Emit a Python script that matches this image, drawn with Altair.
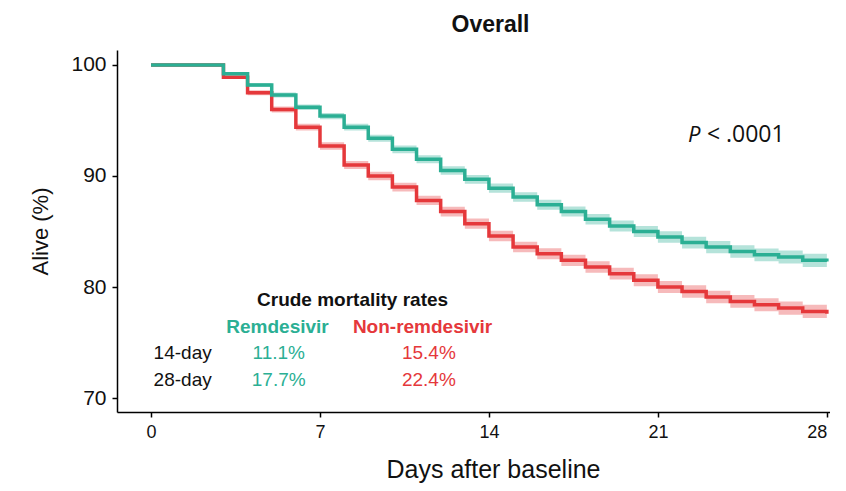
import altair as alt
import pandas as pd

# ---- data ----
days = list(range(29))
remdesivir = [100, 100, 100, 99.2, 98.2, 97.3, 96.2, 95.4, 94.4, 93.4, 92.4, 91.5, 90.5, 89.7,
              88.9, 88.1, 87.4, 86.8, 86.1, 85.5, 85.0, 84.5, 84.0, 83.6, 83.2, 82.9, 82.7, 82.4, 82.3]
non_remdesivir = [100, 100, 100, 98.9, 97.5, 96.0, 94.4, 92.7, 91.0, 90.0, 89.0, 87.8, 86.8, 85.7,
                  84.6, 83.6, 83.0, 82.4, 81.8, 81.2, 80.6, 80.0, 79.6, 79.1, 78.7, 78.4, 78.1, 77.8, 77.6]
remdesivir_ci = [0, 0, 0, 0.12, 0.18, 0.22, 0.25, 0.28, 0.3, 0.32, 0.34, 0.36, 0.38, 0.4,
                 0.42, 0.43, 0.45, 0.46, 0.48, 0.5, 0.5, 0.52, 0.53, 0.55, 0.56, 0.57, 0.58, 0.6, 0.6]
non_remdesivir_ci = [0, 0, 0, 0.15, 0.22, 0.27, 0.3, 0.33, 0.36, 0.38, 0.4, 0.42, 0.44, 0.46,
                     0.47, 0.48, 0.5, 0.5, 0.52, 0.53, 0.54, 0.55, 0.56, 0.57, 0.58, 0.58, 0.59, 0.6, 0.6]
groups = ["Remdesivir", "Non-remdesivir"]
colors = ["#2BAF94", "#E5383B"]
x_ticks = [0, 7, 14, 21, 28]
y_ticks = [70, 80, 90, 100]
table_title = "Crude mortality rates"
row_labels = ["14-day", "28-day"]
remdesivir_rates = ["11.1%", "17.7%"]
non_remdesivir_rates = ["15.4%", "22.4%"]
p_symbol = "P"
p_value = "< .0001"


def frame(g, vals, ci):
    return pd.DataFrame({"day": days, "surv": vals,
                         "lo": [v - c for v, c in zip(vals, ci)],
                         "hi": [v + c for v, c in zip(vals, ci)],
                         "group": g})


df_rem = frame(groups[0], remdesivir, remdesivir_ci)
df_non = frame(groups[1], non_remdesivir, non_remdesivir_ci)

xs = alt.Scale(domain=[-1.41, 28.13], nice=False, zero=False)
ys = alt.Scale(domain=[68.74, 101.35], nice=False, zero=False)
cs = alt.Scale(domain=groups, range=colors)

FONT = "Liberation Sans"

x_enc = alt.X("day:Q", scale=xs, title="Days after baseline",
              axis=alt.Axis(values=x_ticks, grid=False, domainColor="black", domainWidth=1.5,
                            tickColor="black", tickWidth=1.5, tickSize=5, labelFontSize=18,
                            labelFont=FONT, labelColor="#111", labelPadding=6, labelFlush=8,
                            titleFont=FONT, titleFontSize=25, titleFontWeight="normal",
                            titleColor="#111", titlePadding=16, titleX=376))
y_enc = alt.Y("surv:Q", scale=ys, title="Alive (%)",
              axis=alt.Axis(values=y_ticks, grid=False, domainColor="black", domainWidth=1.5,
                            tickColor="black", tickWidth=1.5, tickSize=5, labelFontSize=21,
                            labelFont=FONT, labelColor="#111", labelPadding=6,
                            titleFont=FONT, titleFontSize=22, titleFontWeight="normal",
                            titleColor="#111", titlePadding=18))
color_enc = alt.Color("group:N", scale=cs, legend=None)


def band(d):
    return alt.Chart(d).mark_area(interpolate="step-after", opacity=0.35).encode(
        x=x_enc, y=alt.Y("lo:Q", scale=ys), y2="hi:Q", color=color_enc)


def line(d):
    return alt.Chart(d).mark_line(interpolate="step-after", strokeWidth=3.5).encode(
        x=x_enc, y=y_enc, color=color_enc)


def label(text, x, y, color="#111", size=19, weight="normal", align="center", font=FONT, style="normal"):
    return alt.Chart(pd.DataFrame({"t": [text]})).mark_text(
        align=align, baseline="middle", fontSize=size, fontWeight=weight, color=color,
        font=font, fontStyle=style).encode(
        x=alt.datum(x, scale=xs), y=alt.datum(y, scale=ys), text="t:N")


texts = [
    label(table_title, 8.35, 78.83, weight="bold"),
    label(groups[0], 5.24, 76.42, color=colors[0], weight="bold"),
    label(groups[1], 11.25, 76.42, color=colors[1], weight="bold"),
    label(row_labels[0], 1.31, 74.05),
    label(row_labels[1], 1.31, 71.62),
    label(remdesivir_rates[0], 5.29, 74.05, color=colors[0]),
    label(remdesivir_rates[1], 5.29, 71.62, color=colors[0]),
    label(non_remdesivir_rates[0], 11.51, 74.05, color=colors[1]),
    label(non_remdesivir_rates[1], 11.51, 71.62, color=colors[1]),
    label(p_symbol, 22.25, 93.7, size=22, align="left", font="Open Sans", style="italic"),
    label(p_value, 23.03, 93.7, size=23, align="left", font="Open Sans"),
]

chart = alt.layer(band(df_non), band(df_rem), line(df_non), line(df_rem), *texts).properties(
    width=713, height=362,
    autosize=alt.AutoSizeParams(type="none"),
    padding={"left": 109, "top": 42, "right": 0, "bottom": 71},
    background="white",
    title=alt.TitleParams("Overall", fontSize=23, font=FONT, fontWeight="bold",
                          color="#111", anchor="middle", offset=13, dx=17),
).configure_view(stroke=None)

chart.save("out.html", embed_options={"renderer": "svg", "actions": False})
